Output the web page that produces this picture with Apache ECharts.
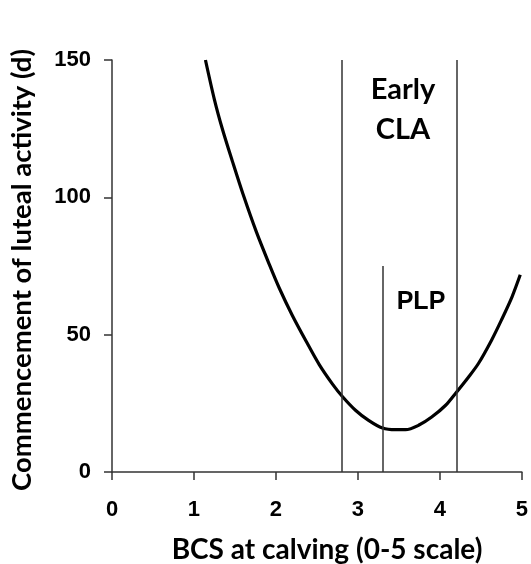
<!DOCTYPE html>
<html>
<head>
<meta charset="utf-8">
<script src="https://cdn.jsdelivr.net/npm/echarts@6/dist/echarts.min.js"></script>
<style>
html,body{margin:0;padding:0;background:#fff;}
#chart{width:531px;height:564px;}
</style>
</head>
<body>
<div id="chart"></div>
<script>
// Data
var bcs = [1.14, 1.25, 1.35, 1.47, 1.60, 1.76, 1.92, 2.04, 2.20, 2.37, 2.53, 2.69, 2.81, 2.97, 3.13, 3.30, 3.46, 3.58, 3.74, 3.90, 4.07, 4.19, 4.35, 4.47, 4.63, 4.75, 4.88, 4.98];
var claDays = [150, 135.5, 124.5, 113, 101, 87.5, 75.5, 67, 57, 47.5, 39, 32, 27.5, 22.5, 18.8, 16, 15.4, 15.4, 17, 20, 24.3, 28.6, 34.6, 39.5, 48, 55.3, 63.8, 71.8];
var xTicks = [0, 1, 2, 3, 4, 5];
var yTicks = [0, 50, 100, 150];
var earlyClaBounds = [2.8, 4.2];
var earlyClaTop = 150;
var plpX = 3.3;
var plpTop = 75;
var xTitle = 'BCS at calving (0-5 scale)';
var yTitle = 'Commencement of luteal activity (d)';
var earlyLabel = 'Early\nCLA';
var plpLabel = 'PLP';

var chart = echarts.init(document.getElementById('chart'));
var axisCol = '#333';
var lineData = bcs.map(function(x, i){ return [x, claDays[i]]; });
var vLines = earlyClaBounds.map(function(x){ return [{coord:[x,0]},{coord:[x,earlyClaTop]}]; });
vLines.push([{coord:[plpX,0]},{coord:[plpX,plpTop]}]);

chart.setOption({
  animation: false,
  backgroundColor: '#fff',
  grid: {left: 112, right: 8, top: 60, bottom: 92},
  xAxis: {
    type: 'value', min: xTicks[0], max: xTicks[xTicks.length-1], interval: 1,
    axisLine: {show: true, lineStyle: {color: axisCol, width: 1.5}},
    axisTick: {show: true, length: 8, lineStyle: {color: axisCol, width: 1.5}},
    splitLine: {show: false},
    axisLabel: {color: '#000', fontFamily: 'Liberation Sans', fontWeight: 'bold', fontSize: 22, margin: 27}
  },
  yAxis: {
    type: 'value', min: yTicks[0], max: yTicks[yTicks.length-1], interval: 50,
    axisLine: {show: true, lineStyle: {color: axisCol, width: 1.5}},
    axisTick: {show: true, length: 8, lineStyle: {color: axisCol, width: 1.5}},
    splitLine: {show: false},
    axisLabel: {color: '#000', fontFamily: 'Liberation Sans', fontWeight: 'bold', fontSize: 22, margin: 21}
  },
  series: [{
    type: 'line',
    data: lineData,
    smooth: 0.3,
    showSymbol: false,
    lineStyle: {color: '#000', width: 3.2},
    markLine: {
      silent: true, symbol: ['none','none'],
      label: {show: false},
      lineStyle: {color: axisCol, width: 1.5, type: 'solid'},
      data: vLines
    }
  }],
  graphic: [
    {type:'text', x: 22, y: 270, rotation: Math.PI/2,
     style:{text: yTitle, font: 'bold 27.5px Lato', fill:'#000', align:'center', verticalAlign:'middle'}},
    {type:'text', x: 327, y: 550,
     style:{text: xTitle, font: 'bold 28px Lato', fill:'#000', align:'center', verticalAlign:'middle'}},
    {type:'text', x: 403, y: 110,
     style:{text: earlyLabel, font: 'bold 29px Lato', lineHeight: 40, fill:'#000', align:'center', verticalAlign:'middle'}},
    {type:'text', x: 421, y: 302,
     style:{text: plpLabel, font: 'bold 25px Liberation Sans', fill:'#000', align:'center', verticalAlign:'middle'}}
  ]
});
</script>
</body>
</html>
